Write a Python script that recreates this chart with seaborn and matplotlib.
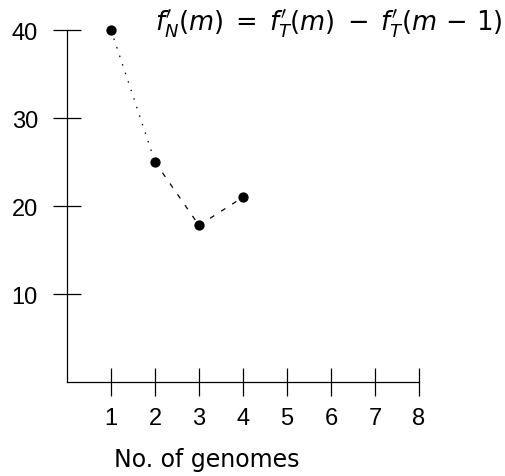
import matplotlib
matplotlib.use("Agg")
import matplotlib.pyplot as plt
import seaborn as sns
import pandas as pd

genomes = [1, 2, 3, 4]
values = [40, 25, 17.8, 21]
segment_styles = [(0, (1.2, 6)), (0, (4, 6.5)), (0, (4, 6.5))]
x_ticks = [1, 2, 3, 4, 5, 6, 7, 8]
y_ticks = [10, 20, 30, 40]

sns.set_theme(style="white")
plt.rcParams['font.family'] = ['Liberation Sans', 'DejaVu Sans']
plt.rcParams['mathtext.fontset'] = 'dejavusans'

fig = plt.figure(figsize=(5.05, 4.77), dpi=100)
ax = fig.add_axes([67/505, (477-383)/477, (419-67)/505, (383-31)/477])

df = pd.DataFrame({"genomes": genomes, "value": values})
for i, ls in enumerate(segment_styles):
    seg = df.iloc[i:i+2]
    sns.lineplot(data=seg, x="genomes", y="value", ax=ax, color="black",
                 linewidth=0.9, linestyle=ls, clip_on=False)
sns.scatterplot(data=df, x="genomes", y="value", ax=ax, color="black",
                s=55, edgecolor="black", linewidth=0, clip_on=False, zorder=5)

ax.set_xlim(0, 8)
ax.set_ylim(0, 40)
ax.set_xticks(x_ticks)
ax.set_yticks(y_ticks)
ax.tick_params(axis="both", direction="inout", length=20, width=0.9,
               color="black", labelsize=17, labelcolor="black",
               bottom=True, left=True)
ax.tick_params(axis="x", pad=8)
ax.tick_params(axis="y", pad=11)
for s in ["top", "right"]:
    ax.spines[s].set_visible(False)
for s in ["left", "bottom"]:
    ax.spines[s].set_color("black")
    ax.spines[s].set_linewidth(0.9)
ax.set_xlabel("No. of genomes", fontsize=17, color="black",
              fontfamily="DejaVu Sans")
ax.xaxis.set_label_coords((207-67)/352, -0.185)
ax.set_ylabel("")
ax.grid(False)

fig.text(155/505, 1 - 24/477,
         r"$f^{\prime}_N(m)\;=\;f^{\prime}_T(m)\;-\;f^{\prime}_T(m\,-\,1)$",
         fontsize=18.5, color="black", ha="left", va="center")

fig.savefig("out.png", dpi=100)
